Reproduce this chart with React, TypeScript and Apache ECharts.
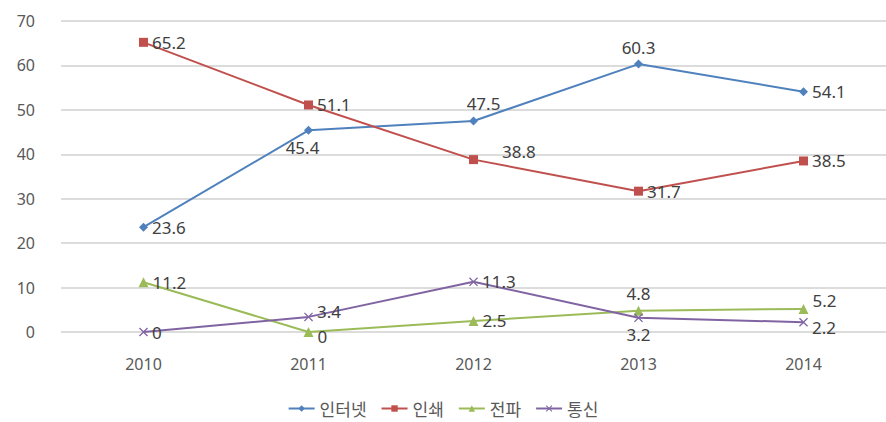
import React, { useEffect, useRef } from "react";
import * as echarts from "echarts";

const years = ["2010", "2011", "2012", "2013", "2014"];
const internet = [23.6, 45.4, 47.5, 60.3, 54.1];
const print = [65.2, 51.1, 38.8, 31.7, 38.5];
const broadcast = [11.2, 0, 2.5, 4.8, 5.2];
const telecom = [0, 3.4, 11.3, 3.2, 2.2];

const internetPos = ["right", "bottom", "top", "top", "right"];
const printPos = ["right", "right", "right", "right", "right"];
const broadcastPos = ["right", "right", "right", "top", "right"];
const telecomPos = ["right", "right", "right", "bottom", "right"];

const X_PATH = "path://M0,1 L1,0 L5,4 L9,0 L10,1 L6,5 L10,9 L9,10 L5,6 L1,10 L0,9 L4,5 Z";

export default function App() {
  const ref = useRef<HTMLDivElement>(null);
  useEffect(() => {
    if (!ref.current) return;
    const chart = echarts.init(ref.current, undefined, { renderer: "svg" });
    const mk = (name: string, data: number[], pos: string[], color: string, symbol: string, size: number, extra?: any[]) => ({
      name,
      type: "line",
      data: data.map((v, i) => ({
        value: v,
        label: {
          position: pos[i],
          distance: 4,
          ...(extra && extra[i] ? extra[i] : {}),
        },
      })),
      symbol,
      symbolSize: size,
      showAllSymbol: true,
      lineStyle: { color, width: 2 },
      itemStyle: { color },
      label: {
        show: true,
        color: "#404040",
        fontSize: 17,
        fontFamily: "Noto Sans, sans-serif",
      },
    });
    chart.setOption({
      animation: false,
      backgroundColor: "#ffffff",
      grid: { left: 61, width: 832, top: 21, bottom: 90 },
      legend: {
        bottom: 0,
        left: "center",
        itemWidth: 26,
        itemHeight: 8,
        itemGap: 14,
        textStyle: { fontSize: 17, color: "#595959", fontFamily: "Noto Sans CJK KR, sans-serif" },
        data: ["인터넷", "인쇄", "전파", "통신"],
      },
      xAxis: {
        type: "category",
        data: years,
        boundaryGap: true,
        axisLine: { show: false },
        axisTick: { show: false },
        axisLabel: { fontSize: 16, color: "#595959", margin: 24, fontFamily: "Noto Sans, sans-serif" },
      },
      yAxis: {
        type: "value",
        min: 0,
        max: 70,
        interval: 10,
        axisLine: { show: false },
        axisTick: { show: false },
        splitLine: { lineStyle: { color: "#d0d0d0", width: 1.5 } },
        axisLabel: { fontSize: 16, color: "#595959", margin: 26, fontFamily: "Noto Sans, sans-serif" },
      },
      series: [
        mk("인터넷", internet, internetPos, "#4F81BD", "diamond", 9, [null, { offset: [-6, 0] }, { offset: [10, 0] }, null, null]),
        mk("인쇄", print, printPos, "#C0504D", "rect", 9, [null, null, { offset: [20, -8] }, null, null]),
        mk("전파", broadcast, broadcastPos, "#9BBB59", "triangle", 10, [null, { offset: [0, 4] }, null, null, { offset: [0, -8] }]),
        mk("통신", telecom, telecomPos, "#8064A2", X_PATH, 9, [null, { offset: [0, -5] }, null, null, { offset: [0, 5] }]),
      ],
    });
    return () => chart.dispose();
  }, []);
  return <div ref={ref} style={{ position: "absolute", left: 0, top: 0, width: 886, height: 422 }} />;
}
